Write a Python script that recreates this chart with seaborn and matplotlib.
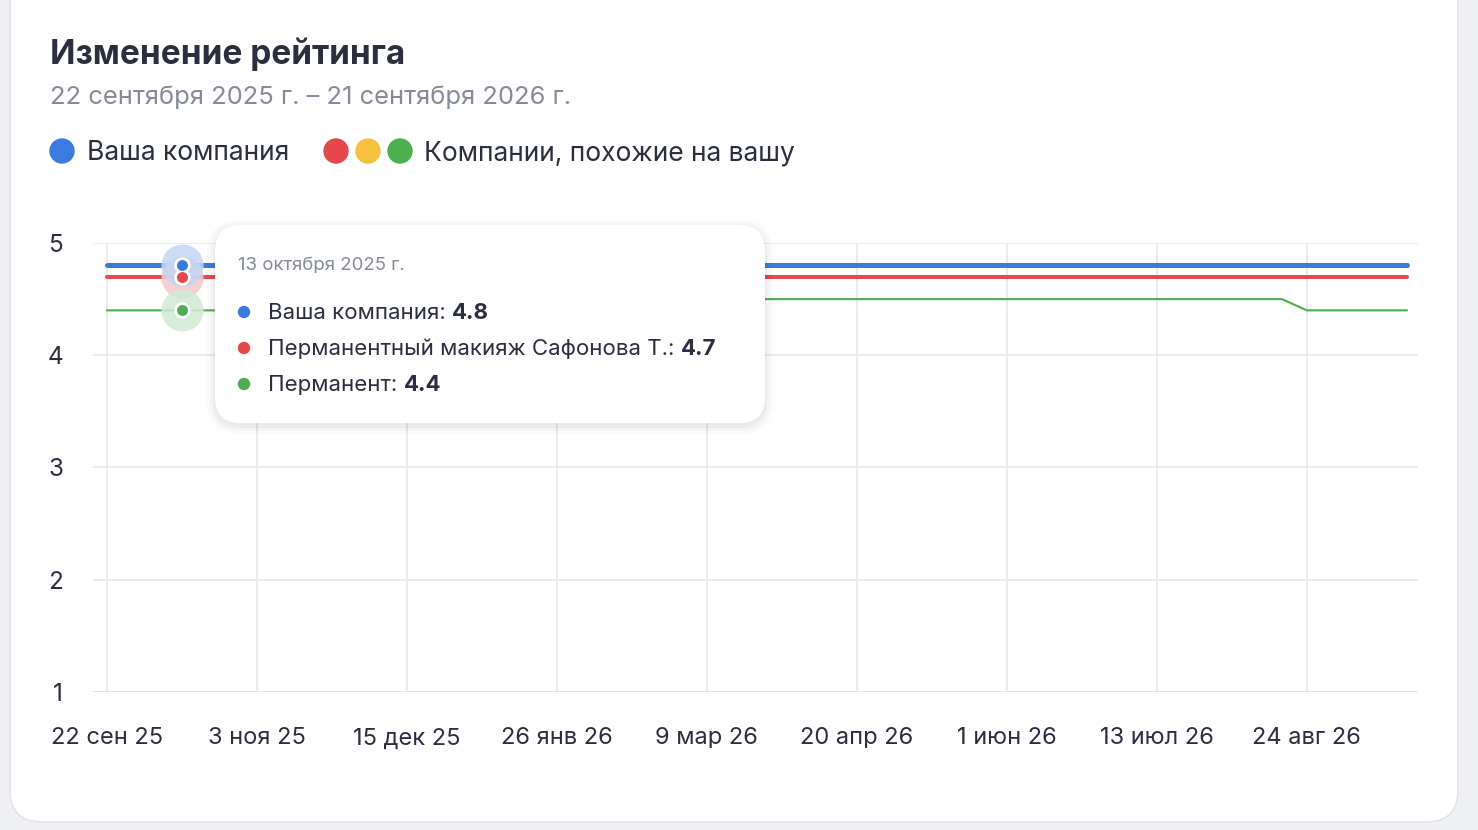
import pandas as pd
import seaborn as sns
import matplotlib.pyplot as plt
from matplotlib.patches import FancyBboxPatch, Circle

# ----------------------------------------
# Datos (puntos semanales)
# ----------------------------------------
start_date = "2025-09-22"
n_weeks = 53
dates = pd.date_range(start_date, periods=n_weeks, freq="7D")

your_company = [
    4.8, 4.8, 4.8, 4.8, 4.8, 4.8, 4.8, 4.8, 4.8, 4.8, 4.8,
    4.8, 4.8, 4.8, 4.8, 4.8, 4.8, 4.8, 4.8, 4.8, 4.8, 4.8,
    4.8, 4.8, 4.8, 4.8, 4.8, 4.8, 4.8, 4.8, 4.8, 4.8, 4.8,
    4.8, 4.8, 4.8, 4.8, 4.8, 4.8, 4.8, 4.8, 4.8, 4.8, 4.8,
    4.8, 4.8, 4.8, 4.8, 4.8, 4.8, 4.8, 4.8, 4.8,
]
safonova = [
    4.7, 4.7, 4.7, 4.7, 4.7, 4.7, 4.7, 4.7, 4.7, 4.7, 4.7,
    4.7, 4.7, 4.7, 4.7, 4.7, 4.7, 4.7, 4.7, 4.7, 4.7, 4.7,
    4.7, 4.7, 4.7, 4.7, 4.7, 4.7, 4.7, 4.7, 4.7, 4.7, 4.7,
    4.7, 4.7, 4.7, 4.7, 4.7, 4.7, 4.7, 4.7, 4.7, 4.7, 4.7,
    4.7, 4.7, 4.7, 4.7, 4.7, 4.7, 4.7, 4.7, 4.7,
]
permanent = [
    4.4, 4.4, 4.4, 4.4, 4.4, 4.4, 4.4, 4.4, 4.4, 4.4, 4.4,
    4.5, 4.5, 4.5, 4.5, 4.5, 4.5, 4.5, 4.5, 4.5, 4.5, 4.5,
    4.5, 4.5, 4.5, 4.5, 4.5, 4.5, 4.5, 4.5, 4.5, 4.5, 4.5,
    4.5, 4.5, 4.5, 4.5, 4.5, 4.5, 4.5, 4.5, 4.5, 4.5, 4.5,
    4.5, 4.5, 4.5, 4.5, 4.4, 4.4, 4.4, 4.4, 4.4,
]

series_names = ["Ваша компания", "Перманентный макияж Сафонова Т.", "Перманент"]
series_colors = ["#3b7be0", "#e5484d", "#4caf50"]
legend_names = ["Ваша компания", "Компании, похожие на вашу"]
similar_colors = ["#e5484d", "#f5c13e", "#4caf50"]

tick_dates = ["2025-09-22", "2025-11-03", "2025-12-15", "2026-01-26", "2026-03-09",
              "2026-04-20", "2026-06-01", "2026-07-13", "2026-08-24"]
tick_labels = ["22 сен 25", "3 ноя 25", "15 дек 25", "26 янв 26", "9 мар 26",
               "20 апр 26", "1 июн 26", "13 июл 26", "24 авг 26"]
y_ticks = [1, 2, 3, 4, 5]

hover_index = 3
hover_label = "13 октября 2025 г."

title = "Изменение рейтинга"
subtitle = "22 сентября 2025 г. – 21 сентября 2026 г."

df = pd.DataFrame({
    "date": dates,
    series_names[0]: your_company,
    series_names[1]: safonova,
    series_names[2]: permanent,
})

# ----------------------------------------
# Estilo
# ----------------------------------------
sns.set_style("white")
plt.rcParams["font.family"] = ["Inter", "DejaVu Sans"]

W, H = 1478, 830
DARK = "#2b2e3f"
GREY = "#868b99"
GRID = "#e8e9ed"

fig = plt.figure(figsize=(W / 100, H / 100), dpi=100)
fig.patch.set_facecolor("#eef0f4")

# fondo: tarjeta blanca
bg = fig.add_axes([0, 0, 1, 1], zorder=0)
bg.set_xlim(0, W)
bg.set_ylim(H, 0)
bg.axis("off")
bg.add_patch(FancyBboxPatch((10, -40), 1448, 862, boxstyle="round,pad=0,rounding_size=32",
                            facecolor="white", edgecolor="#e2e4ea", linewidth=1.2))

# ----------------------------------------
# Gráfico principal
# ----------------------------------------
ax = fig.add_axes([93 / W, 1 - 692 / H, (1418 - 93) / W, (692 - 243) / H], zorder=1)
ax.patch.set_alpha(0)

widths = [3.6, 2.9, 1.5]
for name, color, lw in reversed(list(zip(series_names, series_colors, widths))):
    sns.lineplot(data=df, x="date", y=name, color=color, linewidth=lw, ax=ax,
                 solid_capstyle="round", zorder=3)

x0 = pd.Timestamp(start_date)
ax.set_xlim(x0 - pd.Timedelta(days=3.9), x0 + pd.Timedelta(days=367.1))
ax.set_ylim(1, 5)
ax.set_xticks(pd.to_datetime(tick_dates))
ax.set_xticklabels(tick_labels)
ax.set_yticks(y_ticks)
ax.set_yticklabels([str(v) for v in y_ticks])
ax.set_xlabel("")
ax.set_ylabel("")
ax.grid(True, color=GRID, linewidth=1.3)
for s in ax.spines.values():
    s.set_visible(False)
ax.axhline(1, color="#e3e4e8", linewidth=2, zorder=2)
ax.tick_params(length=0, colors=DARK)
ax.tick_params(axis="x", pad=25.5, labelsize=17)
ax.tick_params(axis="y", pad=21.5, labelsize=17.5)

# marcadores del punto señalado
hx = dates[hover_index]
for vals, color, halo in [(safonova, series_colors[1], "#f3c8ca"),
                          (permanent, series_colors[2], "#d2ead3"),
                          (your_company, series_colors[0], "#c3d5f5")]:
    hy = vals[hover_index]
    ax.scatter([hx], [hy], s=920, color=halo, alpha=0.85, linewidths=0, zorder=5)
    ax.scatter([hx], [hy], s=140, color="white", linewidths=0, zorder=6)
    ax.scatter([hx], [hy], s=62, color=color, linewidths=0, zorder=7)

# ----------------------------------------
# Título, leyenda y tooltip
# ----------------------------------------
fg = fig.add_axes([0, 0, 1, 1], zorder=3)
fg.set_xlim(0, W)
fg.set_ylim(H, 0)
fg.axis("off")

fg.text(50, 54, title, fontsize=24, fontweight="bold", color=DARK, va="center")
fg.text(50, 97, subtitle, fontsize=18.4, color=GREY, va="center")

fg.add_patch(Circle((62, 151), 12, color=series_colors[0]))
fg.text(87, 153, legend_names[0], fontsize=19, color=DARK, va="center")
for i, c in enumerate(similar_colors):
    fg.add_patch(Circle((336 + 32 * i, 151), 12, color=c))
fg.text(424, 153, legend_names[1], fontsize=19, color=DARK, va="center")

# tooltip con sombra suave
for k, a in enumerate([0.02, 0.025, 0.035]):
    grow = 8 - 3 * k
    fg.add_patch(FancyBboxPatch((215 - grow, 225 - grow + 3), 550 + 2 * grow, 198 + 2 * grow,
                                boxstyle="round,pad=0,rounding_size=%d" % (26 + grow),
                                facecolor="black", alpha=a, edgecolor="none"))
fg.add_patch(FancyBboxPatch((215, 225), 550, 198, boxstyle="round,pad=0,rounding_size=26",
                            facecolor="white", edgecolor="none"))
fg.text(238, 265, hover_label, fontsize=13.4, color=GREY, va="center")

tip_values = [your_company[hover_index], safonova[hover_index], permanent[hover_index]]
for i, (name, color, v) in enumerate(zip(series_names, series_colors, tip_values)):
    yy = 312 + 36 * i
    fg.add_patch(Circle((244, yy), 5.5, color=color))
    t = fg.text(268, yy + 1, name + ": ", fontsize=16, color=DARK, va="center")
    fg.annotate("%.1f" % v, xy=(1, 0.5), xycoords=t, va="center", ha="left",
                fontsize=16, fontweight="bold", color=DARK)

fig.savefig("out.png", dpi=100, facecolor=fig.get_facecolor())
